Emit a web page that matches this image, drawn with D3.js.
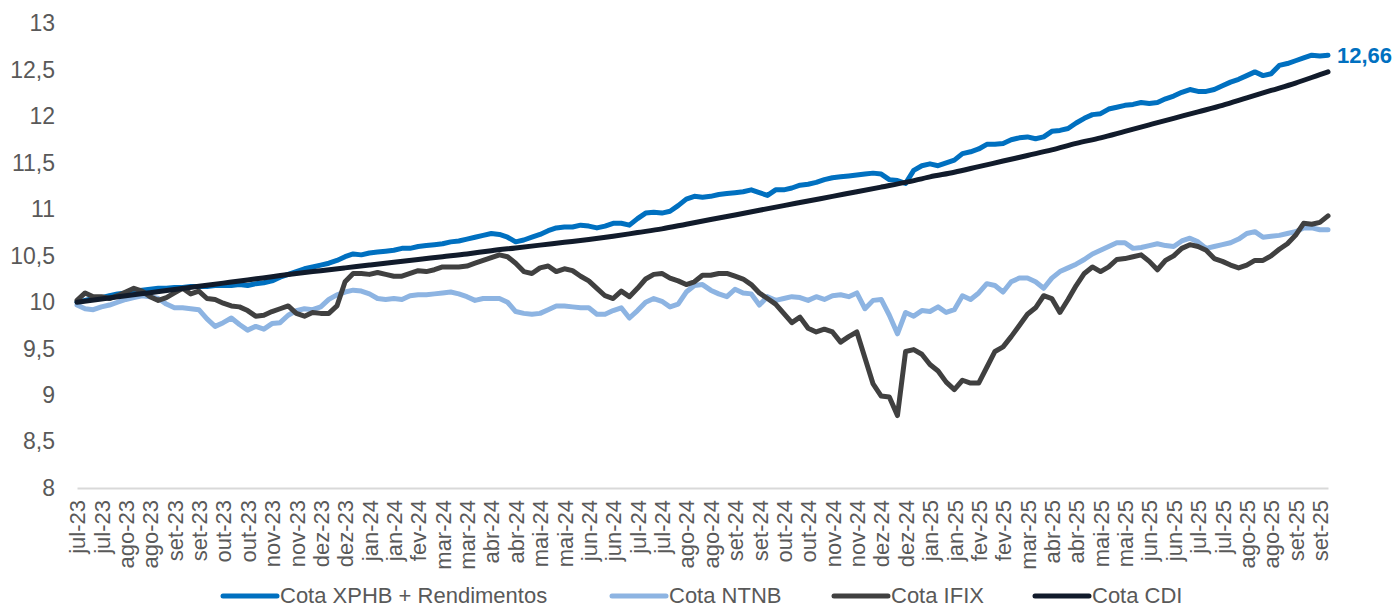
<!DOCTYPE html>
<html>
<head>
<meta charset="utf-8">
<script src="https://cdn.jsdelivr.net/npm/d3@7"></script>
<style>
  html, body { margin: 0; padding: 0; background: #ffffff; overflow: hidden; }
  svg { display: block; font-family: "Liberation Sans", Arial, sans-serif; }
</style>
</head>
<body>
<svg id="chart" width="1396" height="608"></svg>
<script>
// ---------- data ----------
const tickLabels = ["jul-23","jul-23","ago-23","ago-23","set-23","set-23","out-23","out-23","nov-23","nov-23","dez-23","dez-23",
  "jan-24","jan-24","fev-24","mar-24","mar-24","abr-24","abr-24","mai-24","mai-24","jun-24","jun-24","jul-24","jul-24","ago-24","ago-24",
  "set-24","set-24","out-24","out-24","nov-24","nov-24","dez-24","dez-24",
  "jan-25","jan-25","fev-25","fev-25","mar-25","abr-25","abr-25","mai-25","mai-25","jun-25","jun-25","jul-25","jul-25","ago-25","ago-25","set-25","set-25"];

const yTicks = [8, 8.5, 9, 9.5, 10, 10.5, 11, 11.5, 12, 12.5, 13];

const seriesNames = ["Cota XPHB + Rendimentos", "Cota NTNB", "Cota IFIX", "Cota CDI"];

const xphb = [
  10.00,10.02,10.04,10.05,10.07,10.09,10.10,10.12,10.13,10.14,
  10.15,10.15,10.16,10.16,10.17,10.17,10.17,10.18,10.18,10.18,
  10.19,10.18,10.20,10.21,10.23,10.27,10.30,10.33,10.36,10.38,
  10.40,10.42,10.45,10.49,10.52,10.51,10.53,10.54,10.55,10.56,
  10.58,10.58,10.60,10.61,10.62,10.63,10.65,10.66,10.68,10.70,
  10.72,10.74,10.73,10.70,10.65,10.67,10.70,10.73,10.77,10.80,
  10.81,10.81,10.83,10.82,10.80,10.82,10.85,10.85,10.83,10.90,
  10.96,10.97,10.96,10.98,11.04,11.11,11.14,11.13,11.14,11.16,
  11.17,11.18,11.19,11.21,11.18,11.15,11.21,11.21,11.23,11.26,
  11.27,11.29,11.32,11.34,11.35,11.36,11.37,11.38,11.39,11.38,
  11.32,11.31,11.28,11.42,11.47,11.49,11.47,11.50,11.53,11.60,
  11.62,11.65,11.70,11.70,11.71,11.75,11.77,11.78,11.76,11.78,
  11.84,11.85,11.87,11.93,11.98,12.02,12.03,12.08,12.10,12.12,
  12.13,12.15,12.14,12.15,12.19,12.22,12.26,12.29,12.27,12.27,
  12.29,12.33,12.37,12.40,12.44,12.48,12.44,12.46,12.55,12.57,
  12.60,12.63,12.66,12.65,12.66];

const ntnb = [
  9.97,9.93,9.92,9.95,9.97,10.00,10.03,10.05,10.07,10.06,
  10.04,9.98,9.94,9.94,9.93,9.92,9.82,9.74,9.78,9.83,
  9.76,9.70,9.74,9.71,9.77,9.78,9.86,9.91,9.93,9.92,
  9.95,10.03,10.08,10.11,10.13,10.12,10.09,10.04,10.03,10.04,
  10.03,10.07,10.08,10.08,10.09,10.10,10.11,10.09,10.06,10.02,
  10.04,10.04,10.04,10.00,9.90,9.88,9.87,9.88,9.92,9.96,
  9.96,9.95,9.94,9.94,9.87,9.87,9.91,9.94,9.83,9.91,
  10.00,10.04,10.01,9.95,9.98,10.11,10.18,10.19,10.13,10.09,
  10.06,10.14,10.10,10.09,9.97,10.06,10.02,10.04,10.06,10.05,
  10.02,10.06,10.03,10.07,10.08,10.06,10.10,9.93,10.02,10.03,
  9.86,9.66,9.89,9.85,9.91,9.90,9.95,9.89,9.92,10.07,
  10.03,10.10,10.20,10.18,10.11,10.22,10.26,10.26,10.22,10.15,
  10.26,10.33,10.37,10.41,10.46,10.52,10.56,10.60,10.64,10.64,
  10.58,10.59,10.61,10.63,10.61,10.60,10.66,10.69,10.65,10.58,
  10.60,10.62,10.64,10.68,10.74,10.76,10.70,10.71,10.72,10.74,
  10.76,10.80,10.80,10.78,10.78];

const ifix = [
  10.02,10.10,10.06,10.06,10.04,10.07,10.11,10.15,10.12,10.06,
  10.02,10.05,10.10,10.15,10.09,10.12,10.04,10.03,9.99,9.96,
  9.95,9.91,9.85,9.86,9.90,9.93,9.96,9.88,9.85,9.89,
  9.88,9.88,9.96,10.22,10.31,10.31,10.30,10.32,10.30,10.28,
  10.28,10.31,10.34,10.33,10.35,10.38,10.38,10.38,10.39,10.42,
  10.45,10.48,10.51,10.49,10.42,10.33,10.31,10.37,10.39,10.33,
  10.36,10.34,10.28,10.23,10.15,10.07,10.04,10.12,10.06,10.15,
  10.25,10.30,10.31,10.26,10.23,10.19,10.22,10.29,10.29,10.31,
  10.31,10.28,10.25,10.19,10.10,10.04,9.98,9.88,9.78,9.84,
  9.72,9.68,9.71,9.68,9.57,9.63,9.68,9.40,9.12,8.99,
  8.98,8.78,9.47,9.49,9.44,9.33,9.26,9.14,9.06,9.16,
  9.13,9.13,9.30,9.47,9.52,9.63,9.75,9.87,9.94,10.07,
  10.04,9.89,10.03,10.18,10.31,10.38,10.33,10.38,10.46,10.47,
  10.49,10.51,10.44,10.35,10.45,10.50,10.58,10.62,10.60,10.56,
  10.47,10.44,10.40,10.37,10.40,10.45,10.45,10.50,10.57,10.63,
  10.72,10.85,10.84,10.86,10.93];

// CDI read at every tick-label position (every 3rd observation) plus the last observation
const cdi = [
  10.00,10.034,10.069,10.103,10.137,10.172,10.206,10.24,10.275,10.31,
  10.34,10.37,10.40,10.43,10.46,10.49,10.52,10.555,10.585,10.615,
  10.645,10.675,10.71,10.75,10.79,10.84,10.89,10.94,10.99,11.04,
  11.09,11.14,11.19,11.24,11.29,11.35,11.40,11.46,11.52,11.58,
  11.64,11.71,11.77,11.84,11.91,11.98,12.05,12.12,12.20,12.28,
  12.36,12.45,12.48];

const lastLabel = "12,66";

// ---------- layout ----------
const nObs = xphb.length;            // 155 observations
const tickStep = 3;                  // a category label every 3 observations
const colors = ["#0070C0", "#8DB4E2", "#404040", "#111B2B"];

const svg = d3.select("#chart");

const x = d3.scaleLinear().domain([0, nObs - 1]).range([77, 1328]);
const y = d3.scaleLinear().domain([8, 13]).range([488, 23.6]);

const fmt = v => String(v).replace(".", ",");

// y axis
const yAxis = svg.append("g")
  .attr("transform", `translate(${x(0)},0)`)
  .call(d3.axisLeft(y).tickValues(yTicks).tickFormat(fmt).tickSize(0).tickPadding(22));
yAxis.select(".domain").remove();
yAxis.selectAll("text")
  .attr("fill", "#595959")
  .style("font-size", "23px")
  .style("font-family", "'Liberation Sans', Arial, sans-serif");

// x axis (baseline + rotated category labels)
const tickIdx = tickLabels.map((_, k) => k * tickStep);
const xAxis = svg.append("g")
  .attr("transform", `translate(0,${y(8)})`)
  .call(d3.axisBottom(x).tickValues(tickIdx).tickFormat((d, k) => tickLabels[k]).tickSize(0).tickSizeOuter(0));
xAxis.select(".domain").attr("stroke", "#D9D9D9").attr("stroke-width", 2);
xAxis.selectAll("text")
  .attr("fill", "#595959")
  .style("font-size", "22px")
  .style("font-family", "'Liberation Sans', Arial, sans-serif")
  .attr("text-anchor", "end")
  .attr("transform", "rotate(-90)")
  .attr("x", -12)
  .attr("y", 0)
  .attr("dy", "0.35em");

// lines
const line = d3.line()
  .x(d => x(d[0]))
  .y(d => y(d[1]));

const toPts = arr => arr.map((v, i) => [i, v]);
const cdiPts = cdi.map((v, j) => [Math.min(j * tickStep, nObs - 1), v]);

const seriesData = [toPts(xphb), toPts(ntnb), toPts(ifix), cdiPts];

seriesData.forEach((pts, s) => {
  svg.append("path")
    .datum(pts)
    .attr("fill", "none")
    .attr("stroke", colors[s])
    .attr("stroke-width", 5)
    .attr("stroke-linejoin", "round")
    .attr("stroke-linecap", "round")
    .attr("d", s === 3 ? line.curve(d3.curveMonotoneX)(pts) : line.curve(d3.curveLinear)(pts));
});

// end label
svg.append("text")
  .attr("x", x(nObs - 1) + 9)
  .attr("y", y(xphb[nObs - 1]))
  .attr("dy", "0.35em")
  .attr("fill", "#0070C0")
  .style("font-size", "22px")
  .style("font-weight", "bold")
  .style("font-family", "'Liberation Sans', Arial, sans-serif")
  .text(lastLabel);

// legend
const legendX = [223, 612, 834, 1035];
const legend = svg.append("g");
seriesNames.forEach((name, s) => {
  const g = legend.append("g").attr("transform", `translate(${legendX[s]},596)`);
  g.append("line")
    .attr("x1", 0).attr("x2", 54).attr("y1", 0).attr("y2", 0)
    .attr("stroke", colors[s]).attr("stroke-width", 5).attr("stroke-linecap", "round");
  g.append("text")
    .attr("x", 57)
    .attr("y", 7)
    .attr("fill", "#595959")
    .style("font-size", "22px")
    .style("font-family", "'Liberation Sans', Arial, sans-serif")
    .text(name);
});
</script>
</body>
</html>
